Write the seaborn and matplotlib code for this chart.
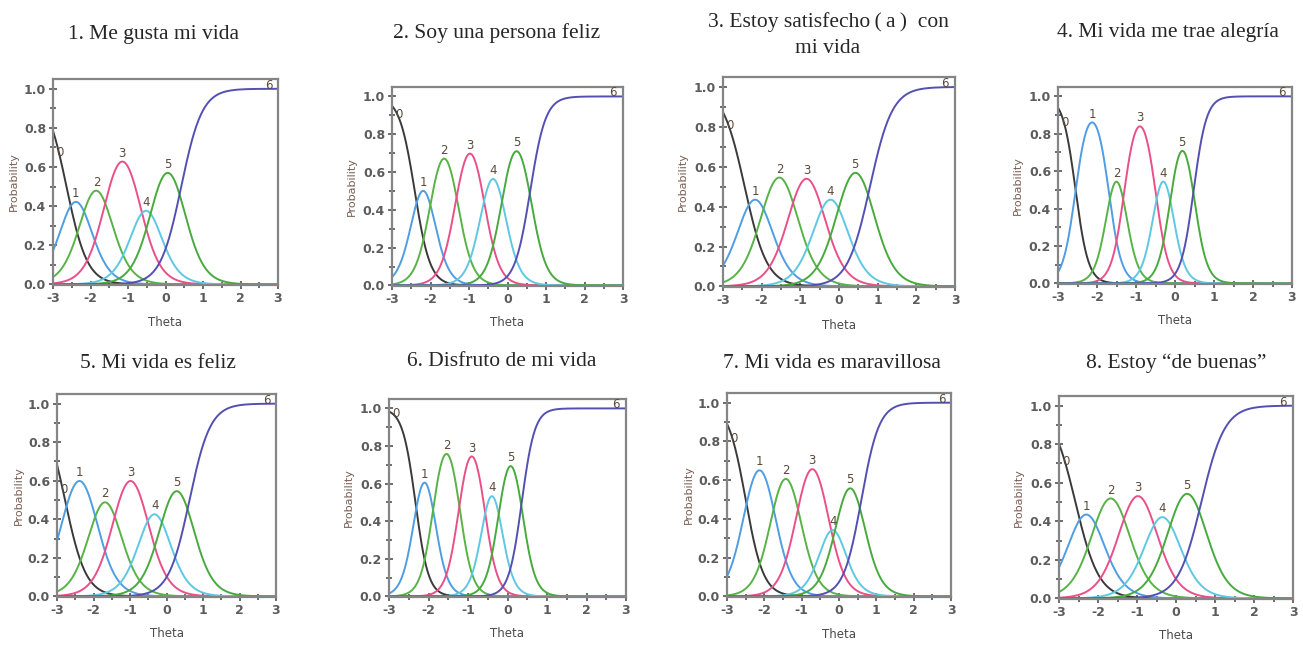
import numpy as np
import pandas as pd
import matplotlib
matplotlib.use("Agg")
import matplotlib.pyplot as plt
from matplotlib.ticker import MultipleLocator, FormatStrFormatter
import seaborn as sns

# Item titles (one panel per item)
titles = [
    "1. Me gusta mi vida",
    "2. Soy una persona feliz",
    "3. Estoy satisfecho\u2009(\u2009a\u2009)\u2002con\nmi vida",
    "4. Mi vida me trae alegría",
    "5. Mi vida es feliz",
    "6. Disfruto de mi vida",
    "7. Mi vida es maravillosa",
    "8. Estoy \u201cde buenas\u201d",
]

# Graded response model parameters estimated from each panel's curves
slopes = [3.6, 5.0, 3.45, 6.1, 3.5, 6.1, 4.2, 3.33]
thresholds = [
    [-2.64, -2.14, -1.56, -0.74, -0.30, 0.42],
    [-2.41, -1.97, -1.32, -0.63, -0.12, 0.59],
    [-2.44, -1.90, -1.19, -0.49, 0.05, 0.80],
    [-2.55, -1.70, -1.30, -0.50, -0.10, 0.48],
    [-2.78, -1.99, -1.38, -0.59, -0.07, 0.63],
    [-2.33, -1.87, -1.22, -0.59, -0.20, 0.36],
    [-2.50, -1.76, -1.09, -0.34, 0.00, 0.60],
    [-2.58, -2.02, -1.33, -0.62, -0.08, 0.65],
]
categories = ["0", "1", "2", "3", "4", "5", "6"]
colors = ["#3a3a3a", "#4f9de2", "#58b347", "#e9508a", "#5ec8e2", "#48aa3e", "#5450b2"]

theta = np.linspace(-3, 3, 301)


def category_curves(a, b):
    cum = [np.ones_like(theta)]
    cum += [1.0 / (1.0 + np.exp(-a * (theta - bk))) for bk in b]
    cum += [np.zeros_like(theta)]
    return [cum[k] - cum[k + 1] for k in range(len(categories))]


# axes boxes in pixels: left, top, right, bottom
W, H = 1303, 648
boxes = [
    (53, 79, 278, 285), (392, 87, 623, 286), (723, 77, 955, 287), (1058, 87, 1292, 284),
    (57, 394, 276, 597), (389, 399, 626, 597), (727, 393, 951, 597), (1059, 396, 1293, 599),
]
title_pos = [
    (153, 35), (497, 33), (828, 35), (1168, 33),
    (158, 363), (502, 362), (832, 363), (1176, 363),
]

sns.set_style("white")
plt.rcParams["axes.unicode_minus"] = False
fig = plt.figure(figsize=(W / 100, H / 100), dpi=100)

for i in range(8):
    l, t, r, b = boxes[i]
    ax = fig.add_axes([l / W, 1 - b / H, (r - l) / W, (b - t) / H])
    curves = category_curves(slopes[i], thresholds[i])
    df = pd.DataFrame({
        "Theta": np.tile(theta, len(categories)),
        "Probability": np.concatenate(curves),
        "category": np.repeat(categories, len(theta)),
    })
    sns.lineplot(data=df, x="Theta", y="Probability", hue="category",
                 hue_order=categories, palette=colors, linewidth=1.4,
                 legend=False, ax=ax)

    # category labels
    lab_kw = dict(fontsize=8.5, color="#5a4a3a", ha="center", family="DejaVu Sans")
    x0 = -2.82
    ax.text(x0, np.interp(x0, theta, curves[0]) + 0.02, "0", va="center", **lab_kw)
    for k in range(1, 6):
        j = np.argmax(curves[k])
        ax.text(theta[j], curves[k][j] + 0.01, categories[k], va="bottom", **lab_kw)
    ax.text(2.75, 0.985, "6", va="bottom", **lab_kw)

    ax.set_xlim(-3, 3)
    ax.set_ylim(-0.003, 1.05)
    ax.xaxis.set_major_locator(MultipleLocator(1))
    ax.xaxis.set_minor_locator(MultipleLocator(0.5))
    ax.yaxis.set_major_locator(MultipleLocator(0.2))
    ax.yaxis.set_minor_locator(MultipleLocator(0.1))
    ax.yaxis.set_major_formatter(FormatStrFormatter("%.1f"))
    ax.tick_params(which="both", direction="inout", color="#444444", width=1.1,
                   labelsize=9, labelcolor="#5c5c5c", pad=2,
                   bottom=True, left=True)
    ax.tick_params(which="major", length=6)
    ax.tick_params(which="minor", length=4)
    for lab in ax.get_xticklabels() + ax.get_yticklabels():
        lab.set_fontweight("bold")
    for sp in ax.spines.values():
        sp.set_color("#858585")
        sp.set_linewidth(1.6)

    ax.set_xlabel("Theta", fontsize=8.5, color="#4a4a4a")
    ax.set_ylabel("Probability", fontsize=8, color="#7a5f55")
    ax.xaxis.set_label_coords(0.5, -0.15)
    ax.yaxis.set_label_coords(-0.15, 0.5)

    tx, ty = title_pos[i]
    fig.text(tx / W, 1 - ty / H, titles[i], ha="center", va="center",
             fontsize=15.5, family="Liberation Serif", linespacing=1.55)

fig.savefig("out.png", dpi=100, facecolor="white")
